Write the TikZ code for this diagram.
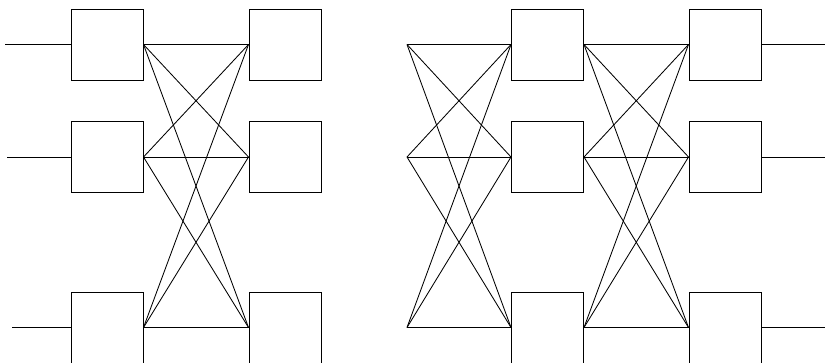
\documentclass[tikz,border=0pt]{standalone}
\begin{document}
\begin{tikzpicture}[x=1pt,y=-1pt,
  blk/.style={draw,line width=1pt,minimum width=72pt,minimum height=71pt,inner sep=0pt},
  wire/.style={line width=0.85pt}]
\useasboundingbox (0,0) rectangle (825,362);
\foreach \r/\y in {1/44.5,2/157,3/327.5}{
  \node[blk] (a\r) at (107,\y) {};
  \node[blk] (b\r) at (285,\y) {};
  \node[blk] (c\r) at (547.5,\y) {};
  \node[blk] (d\r) at (725,\y) {};
  \coordinate (p\r) at (407,\y);
  \coordinate (o\r) at (825,\y);
}
\coordinate (i1) at (5,44.5);
\coordinate (i2) at (7,157);
\coordinate (i3) at (12,327.5);
\foreach \r in {1,2,3}{
  \draw[wire] (i\r) -- (a\r.west);
  \draw[wire] (d\r.east) -- (o\r);
  \foreach \s in {1,2,3}{
    \draw[wire] (a\r.east) -- (b\s.west);
    \draw[wire] (p\r) -- (c\s.west);
    \draw[wire] (c\r.east) -- (d\s.west);
  }
}
\end{tikzpicture}
\end{document}
